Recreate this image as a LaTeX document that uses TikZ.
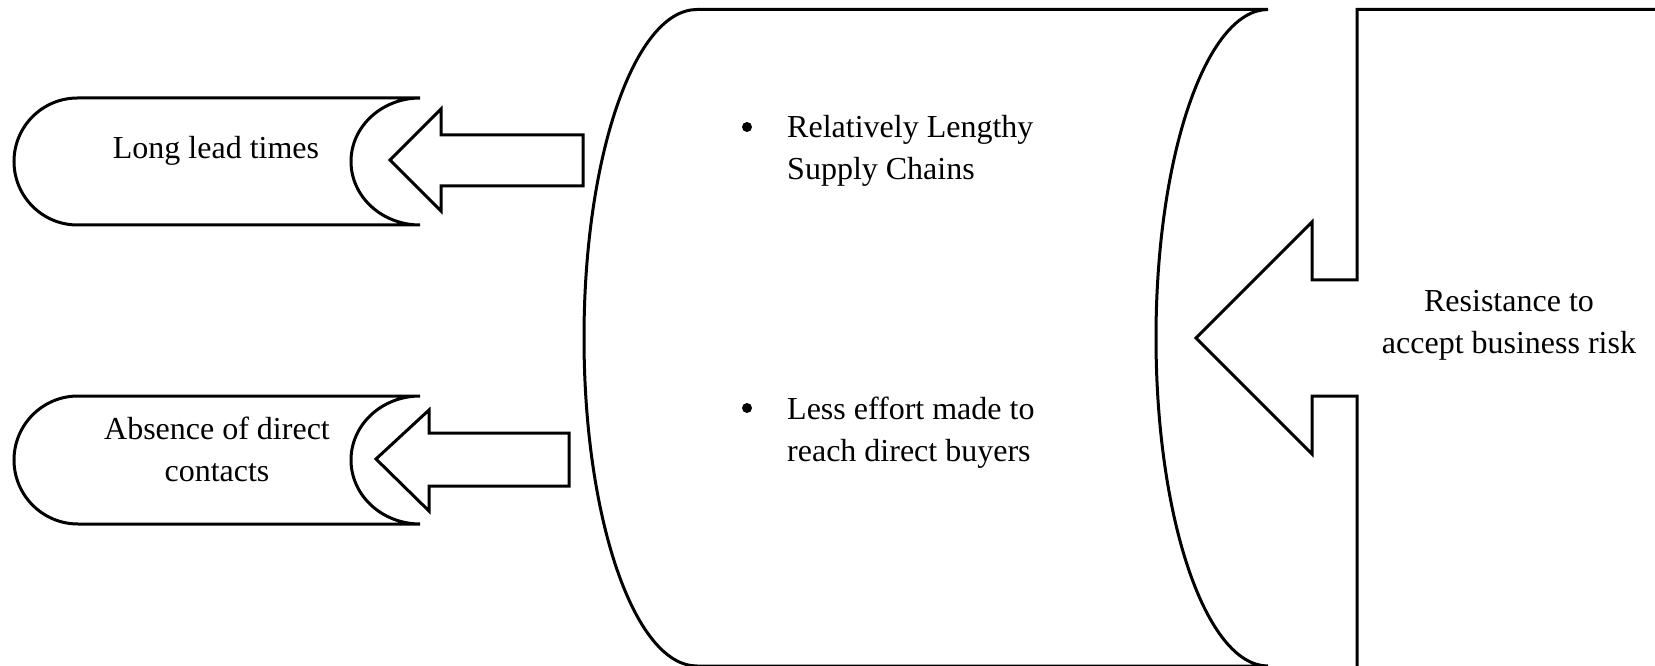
\documentclass[tikz,border=0pt]{standalone}
\usepackage{fontspec}
\setmainfont{Liberation Serif}
\begin{document}
\begin{tikzpicture}[x=1pt,y=1pt,
  outline/.style={draw=black,line width=3pt,fill=white},
  label/.style={inner sep=0pt,align=center,font={\fontsize{32}{42}\selectfont}},
  bullettext/.style={inner sep=0pt,align=left,anchor=west,font={\fontsize{32}{42}\selectfont}},
  dot/.style={circle,fill=black,inner sep=0pt,minimum size=10pt}]
\useasboundingbox (0,0) rectangle (1655,665);
\clip (0,0) rectangle (1655,665);

% left capsule: long lead times
\draw[outline] (420,567) -- (77.5,567)
  arc[start angle=90,end angle=270,radius=63.5] -- (420,440)
  arc[start angle=270,end angle=90,x radius=69,y radius=63.5];
% left capsule: absence of direct contacts
\draw[outline] (420,269) -- (78,269)
  arc[start angle=90,end angle=270,radius=64] -- (420,141)
  arc[start angle=270,end angle=90,x radius=69,y radius=64];

% block arrows pointing into the capsules
\draw[outline] (583,530) -- (441,530) -- (441,556) -- (390,505)
  -- (441,454) -- (441,479) -- (583,479) -- cycle;
\draw[outline] (569,232) -- (429,232) -- (429,255) -- (376,206)
  -- (429,154) -- (429,179) -- (569,179) -- cycle;

% central cylinder
\draw[outline] (1268,655.5) -- (697,655.5)
  arc[start angle=90,end angle=270,x radius=113,y radius=328.25] -- (1268,-1)
  arc[start angle=270,end angle=90,x radius=112,y radius=328.25];

% right box with arrow notch
\draw[outline] (1700,655.5) -- (1357,655.5) -- (1357,385) -- (1312,385)
  -- (1312,443) -- (1196,327) -- (1312,211) -- (1312,269) -- (1357,269)
  -- (1357,-20) -- (1700,-20);

% texts
\node[label] (lead) at (216,514) {Long lead times};
\node[label] (contacts) at (217,216) {Absence of direct\\contacts};
\node[dot] (b1) at (747,538) {};
\node[bullettext] (chains) at (787,514) {Relatively Lengthy\\Supply Chains};
\node[dot] (b2) at (747,257) {};
\node[bullettext] (buyers) at (787,232.5) {Less effort made to\\reach direct buyers};
\node[label] (risk) at (1509,339.5) {Resistance to\\accept business risk};
\end{tikzpicture}
\end{document}
